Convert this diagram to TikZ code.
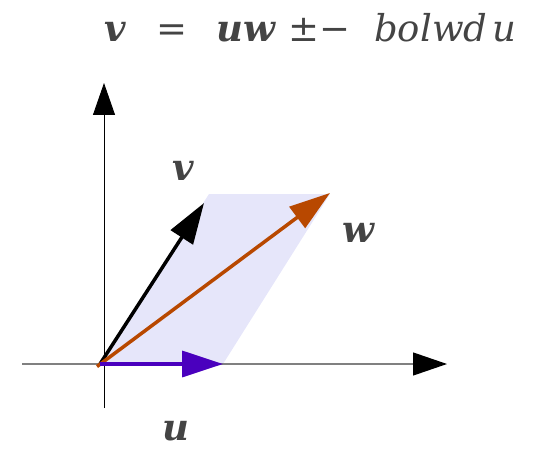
\documentclass[tikz,border=0pt]{standalone}
\usepackage{fontspec}
\setmainfont{DejaVu Serif}
\usetikzlibrary{arrows.meta}
\definecolor{txt}{HTML}{444444}
\definecolor{ucol}{HTML}{4A00BE}
\definecolor{wcol}{HTML}{B84800}
\definecolor{pfill}{HTML}{E6E6FA}
\tikzset{
  vecarrow/.style={line width=3.5pt,-{Triangle[length=41pt,width=26pt]}},
  xaxisarrow/.style={draw=gray,line width=1.2pt,-{Triangle[length=34pt,width=23pt,black]}},
  yaxisarrow/.style={draw=black,line width=0.9pt,-{Triangle[length=32pt,width=22pt]}},
  lbl/.style={text=txt,font=\fontsize{37}{40}\selectfont\bfseries\itshape,inner sep=0pt},
  ttl/.style={text=txt,font=\fontsize{37}{40}\selectfont,inner sep=0pt,anchor=base west}
}
\begin{document}
\begin{tikzpicture}[x=1pt,y=-1pt]
\useasboundingbox (0,0) rectangle (540,449);
% parallelogram
\fill[pfill] (100,364) -- (209,194) -- (330,194) -- (223,364) -- cycle;
% axes
\coordinate (xl) at (22,364);
\coordinate (xr) at (447,364);
\coordinate (yb) at (104,408);
\coordinate (yt) at (104,83);
\draw[xaxisarrow] (xl) -- (xr);
\draw[yaxisarrow] (yb) -- (yt);
% vectors
\coordinate (o) at (100,364);
\coordinate (ow) at (97,366.5);
\coordinate (ut) at (223,364);
\coordinate (vt) at (204,203);
\coordinate (wt) at (330,193);
\draw[vecarrow,draw=black] (o) -- (vt);
\draw[vecarrow,draw=wcol] (ow) -- (wt);
\draw[vecarrow,draw=ucol] (o) -- (ut);
% labels
\node[lbl] (lv) at (183,171) {v};
\node[lbl] (lw) at (358,233) {w};
\node[lbl] (lu) at (176,431) {u};
% title
\node[ttl] (t1) at (104,42) {\bfseries\itshape v};
\node[ttl] (t2) at (156,42) {=};
\node[ttl] (t3) at (216,42) {\bfseries\itshape uw};
\node[ttl] (t4) at (288,42) {±−};
\node[ttl] (t5) at (374,42) {\itshape bolwd};
\node[ttl] (t6) at (492,42) {\itshape u};
\end{tikzpicture}
\end{document}
